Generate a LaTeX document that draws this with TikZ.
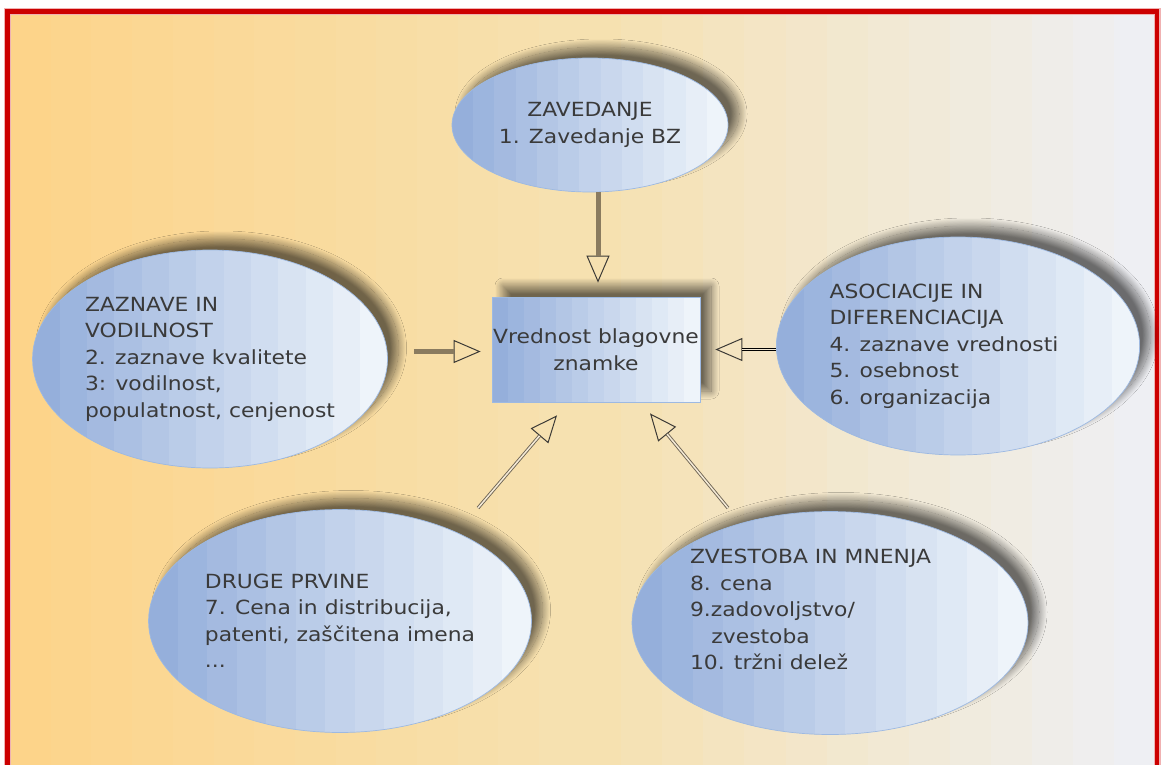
\documentclass[tikz,border=0pt]{standalone}
\usepackage{fontspec}
\setmainfont{DejaVu Sans}[FakeStretch=1.12]
\usetikzlibrary{arrows,arrows.meta,shapes,positioning,shadows,shadows.blur,shapes.geometric,calc}

\definecolor{framered}{HTML}{CC0000}
\definecolor{bgL}{HTML}{FDD48A}
\definecolor{bgM}{HTML}{F6E1B0}
\definecolor{bgR}{HTML}{EEEFF3}
\definecolor{bubbleL}{HTML}{95AFDB}
\definecolor{bubbleR}{HTML}{EEF4FA}
\definecolor{bubbleedge}{HTML}{9DB9E2}
\definecolor{txtgrey}{HTML}{3A3A3A}
\definecolor{shaftbrown}{HTML}{8A7B5F}
\definecolor{tipdark}{HTML}{3C3A36}
\definecolor{dblgrey}{HTML}{6E6454}
\definecolor{gappale}{HTML}{F4EAD6}

\newcommand{\vstripes}[3]{%
  \foreach \i in {1,...,#3}{%
    \pgfmathsetmacro\pmix{100*(\i-1)/(#3-1)}%
    \fill[#2!\pmix!#1] ($(path picture bounding box.south west)!{(\i-1)/#3}!(path picture bounding box.south east)$)
      rectangle ($(path picture bounding box.north west)!{\i/#3+0.005}!(path picture bounding box.north east)$);}}

\tikzset{
  bubble/.style={ellipse, draw=bubbleedge, line width=0.7pt, inner sep=0pt, align=left, text=txtgrey,
    font=\fontsize{19.5}{26.5}\selectfont,
    path picture={\vstripes{bubbleL}{bubbleR}{13}},
    blur shadow={shadow xshift=11pt, shadow yshift=11pt, shadow blur radius=8pt, shadow blur steps=30, shadow opacity=55}},
  valuebox/.style={bubble, rectangle, align=center},
  opentip/.style={-{Triangle[open,length=27pt,width=23pt,line width=1pt]}, draw=tipdark, line width=0.6pt},
  heavyarrow/.style={opentip, postaction={draw=shaftbrown, line width=5pt, -, shorten >=27pt}},
  doublearrow/.style={opentip, postaction={draw=#1, double=gappale, line width=0.9pt, double distance=1.5pt, -, shorten >=27pt}}
}

\begin{document}
\begin{tikzpicture}[x=1pt,y=-1pt]
	\useasboundingbox (0,0) rectangle (1161,765);
	% background and frame
	\foreach \i in {0,...,13}{\pgfmathsetmacro\pmix{100*\i/13}
		\fill[bgM!\pmix!bgL] ({10+\i*40.7},13) rectangle ({10+(\i+1)*40.7+0.5},765);}
	\foreach \i in {0,...,13}{\pgfmathsetmacro\pmix{100*\i/13}
		\fill[bgR!\pmix!bgM] ({580+\i*41.1},13) rectangle ({580+(\i+1)*41.1+0.5},765);}
	\draw[framered!30, line width=7pt] (7.5,800) -- (7.5,11.5) -- (1157,11.5) -- (1157,800);
	\draw[framered, line width=4.5pt] (7.5,800) -- (7.5,11.5) -- (1157,11.5) -- (1157,800);

	\node[bubble, align=center, minimum width=276pt, minimum height=134pt] (zav) at (590,125) {ZAVEDANJE\\1. Zavedanje BZ};
	\node[valuebox, minimum width=208pt, minimum height=105pt] (vred) at (596,349.5) {Vrednost blagovne\\znamke};
	\node[bubble, minimum width=355pt, minimum height=218pt] (zaz) at (210,359)
		{ZAZNAVE IN\\VODILNOST\\2. zaznave kvalitete\\3: vodilnost,\\populatnost, cenjenost};
	\node[bubble, minimum width=357pt, minimum height=218pt] (asoc) at (958,346)
		{ASOCIACIJE IN\\DIFERENCIACIJA\\4. zaznave vrednosti\rule{28pt}{0pt}\\5. osebnost\\6. organizacija};
	\node[bubble, minimum width=383pt, minimum height=223pt] (drug) at (340,621)
		{DRUGE PRVINE\\7. Cena in distribucija,\\patenti, zaščitena imena\\...};
	\node[bubble, minimum width=390pt, minimum height=223pt] (zvest) at (830,623)
		{ZVESTOBA IN MNENJA\\8. cena\\9.zadovoljstvo/\\\hspace*{1.1em}zvestoba\\10. tržni delež\\\rule{280pt}{0pt}};

	\draw[heavyarrow] ($(zav.south)+(8,0)$) -- ($(vred.north -| zav.south)+(8,-14)$);
	\draw[heavyarrow] ($(vred.west -| zaz.east)+(26,2)$) -- ($(vred.west)+(-11,2)$);
	\draw[doublearrow=black] (vred.east -| asoc.west) -- ($(vred.east)+(15,0)$);
	\draw[doublearrow=dblgrey] ($(drug.center)+(138,-113)$) -- ($(vred.south)+(-39,13)$);
	\draw[doublearrow=dblgrey] ($(zvest.center)+(-102,-115)$) -- ($(vred.south)+(54,11)$);
\end{tikzpicture}
\end{document}
